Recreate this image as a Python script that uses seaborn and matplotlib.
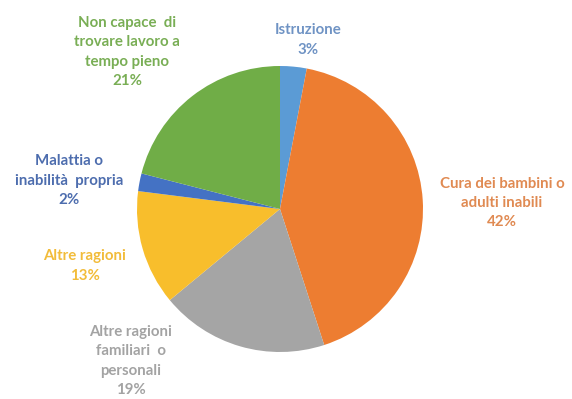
import matplotlib
matplotlib.use("Agg")
import matplotlib.pyplot as plt
import seaborn as sns

sns.set_theme(style="white")
plt.rcParams["font.family"] = ["Lato", "DejaVu Sans"]

categories = [
    "Istruzione",
    "Cura dei bambini o\nadulti inabili",
    "Altre ragioni\nfamiliari  o\npersonali",
    "Altre ragioni",
    "Malattia o\ninabilità  propria",
    "Non capace  di\ntrovare lavoro a\ntempo pieno",
]
values = [3, 42, 19, 13, 2, 21]
slice_colors = ["#5B9BD5", "#ED7D31", "#A5A5A5", "#F8BE2C", "#4472C4", "#70AD47"]
label_colors = ["#6F93C4", "#E08A52", "#A3A3A3", "#F2BC3A", "#4D6DAE", "#79AE55"]

# label anchor points in figure pixels (x, y from top)
label_pos = [(308, 40), (502, 203), (131, 361), (85, 266), (69, 181), (127, 52)]

W, H = 572, 399
fig = plt.figure(figsize=(W / 100, H / 100), dpi=100)
cx, cy, r = 280, 209, 143
ax = fig.add_axes([(cx - r) / W, (H - cy - r) / H, 2 * r / W, 2 * r / H])
ax.pie(values, colors=slice_colors, startangle=90, counterclock=False,
       radius=1.0, wedgeprops=dict(linewidth=0))
ax.set_xlim(-1, 1)
ax.set_ylim(-1, 1)
ax.set_aspect("equal")
ax.axis("off")

for cat, v, col, (px, py) in zip(categories, values, label_colors, label_pos):
    fig.text(px / W, 1 - py / H, f"{cat}\n{v}%", ha="center", va="center",
             color=col, fontsize=10.8, fontweight="bold", linespacing=1.5)

fig.savefig("out.png", dpi=100, facecolor="white")
